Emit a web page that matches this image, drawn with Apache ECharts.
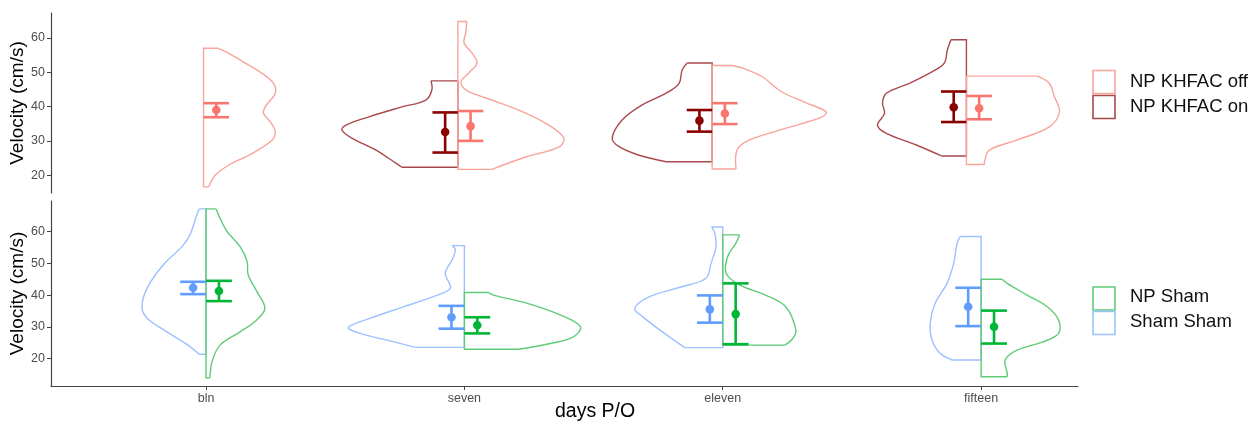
<!DOCTYPE html>
<html>
<head>
<meta charset="utf-8">
<script src="https://cdn.jsdelivr.net/npm/echarts@6/dist/echarts.min.js"></script>
<style>
html,body{margin:0;padding:0;background:#fff;}
#chart{width:1252px;height:422px;}
</style>
</head>
<body>
<div id="chart"></div>
<script>
// ---------- DATA ----------
const categories = ['bln', 'seven', 'eleven', 'fifteen'];
const yTicks = [20, 30, 40, 50, 60];

// Error bars (mean, lower, upper) per category — top panel
const khfacOffMean = [39.0, 34.3, 38.0, 39.5];
const khfacOffLow  = [36.9, 30.0, 34.9, 36.3];
const khfacOffHigh = [41.0, 38.7, 41.0, 43.1];
const khfacOnMean  = [null, 32.6, 35.9, 39.8];
const khfacOnLow   = [null, 26.6, 32.7, 35.5];
const khfacOnHigh  = [null, 38.3, 39.0, 44.4];

// Error bars — bottom panel
const shamShamMean = [42.3, 33.0, 35.5, 36.3];
const shamShamLow  = [40.3, 29.4, 31.3, 30.2];
const shamShamHigh = [44.2, 36.6, 39.9, 42.3];
const npShamMean   = [41.3, 30.5, 34.0, 30.0];
const npShamLow    = [38.1, 27.9, 24.5, 24.7];
const npShamHigh   = [44.5, 33.0, 43.7, 35.1];

// Violin outlines: [velocity, half-width in category units], top to bottom
const khfacOffBln = [[57.0,0.059],[55.6,0.098],[52.7,0.164],[49.7,0.230],[46.8,0.275],[43.9,0.282],[40.0,0.243],[38.0,0.236],[35.6,0.262],[32.7,0.282],[30.2,0.269],[26.3,0.190],[22.9,0.098],[20.0,0.046],[16.6,0.020]];
const khfacOffSeven = [[64.8,0.035],[61.5,0.031],[58.6,0.024],[55.7,0.055],[52.7,0.075],[49.8,0.043],[47.2,0.012],[44.9,0.031],[42.5,0.110],[39.0,0.240],[34.6,0.358],[30.8,0.417],[28.2,0.397],[25.3,0.267],[21.7,0.134]];
const khfacOffEleven = [[52.0,0.079],[51.3,0.118],[48.7,0.197],[44.4,0.271],[41.1,0.370],[38.5,0.448],[37.0,0.433],[33.7,0.291],[30.2,0.145],[27.3,0.098],[21.8,0.094]];
const khfacOffFifteen = [[48.9,0.279],[46.8,0.326],[42.9,0.346],[38.5,0.366],[34.1,0.326],[30.2,0.197],[27.3,0.090],[23.9,0.071],[23.1,0.071]];

const khfacOnSeven = [[47.5,0.106],[44.9,0.102],[41.9,0.126],[39.9,0.220],[37.0,0.350],[34.6,0.440],[33.2,0.456],[30.8,0.417],[27.3,0.322],[23.5,0.244],[22.3,0.220]];
const khfacOnEleven = [[52.7,0.098],[50.7,0.118],[46.8,0.130],[43.9,0.181],[40.5,0.275],[36.1,0.354],[30.8,0.393],[28.3,0.366],[25.8,0.287],[23.9,0.181]];
const khfacOnFifteen = [[59.5,0.061],[56.5,0.075],[52.7,0.087],[50.2,0.134],[46.8,0.224],[43.9,0.315],[41.0,0.330],[38.0,0.322],[34.6,0.350],[32.2,0.315],[28.8,0.197],[25.6,0.098]];

const shamShamBln = [[67.2,0.026],[65.3,0.036],[59.0,0.062],[55.3,0.093],[49.5,0.166],[42.2,0.228],[36.3,0.248],[32.7,0.228],[28.4,0.151],[24.2,0.070],[21.3,0.026]];
const shamShamSeven = [[55.6,0.048],[54.3,0.035],[51.1,0.048],[46.9,0.074],[42.2,0.054],[40.0,0.105],[36.3,0.236],[32.7,0.364],[29.8,0.449],[27.9,0.403],[25.3,0.275],[23.5,0.190]];
const shamShamEleven = [[61.5,0.043],[59.6,0.031],[55.3,0.026],[50.1,0.045],[45.3,0.065],[42.7,0.155],[39.5,0.283],[35.8,0.341],[33.2,0.310],[29.5,0.252],[23.4,0.147]];
const shamShamFifteen = [[58.5,0.080],[56.4,0.093],[50.1,0.106],[43.7,0.132],[37.4,0.178],[31.1,0.197],[25.8,0.190],[21.6,0.159],[19.5,0.112]];

const npShamBln = [[67.2,0.039],[64.3,0.054],[60.1,0.081],[55.3,0.132],[50.6,0.159],[46.4,0.163],[41.1,0.197],[35.8,0.228],[32.0,0.194],[28.4,0.132],[24.2,0.054],[18.9,0.023],[14.2,0.015],[13.9,0.015]];
const npShamSeven = [[40.8,0.094],[40.0,0.112],[37.4,0.244],[33.7,0.372],[30.0,0.449],[26.8,0.422],[24.7,0.333],[22.9,0.209]];
const npShamEleven = [[59.0,0.065],[56.4,0.051],[52.2,0.019],[46.9,0.013],[43.2,0.065],[40.0,0.166],[36.3,0.244],[29.0,0.283],[26.3,0.271],[24.2,0.240]];
const npShamFifteen = [[45.0,0.081],[43.7,0.101],[40.0,0.178],[36.3,0.256],[32.1,0.300],[27.9,0.300],[25.3,0.242],[22.6,0.139],[19.5,0.093],[15.3,0.101],[14.2,0.101]];

// ---------- STYLE ----------
const C = {
  offViolin: '#F9A39D', offBar: '#F8766D',
  onViolin: '#A84A4C', onBar: '#8B0000',
  npViolin: '#5FCB76', npBar: '#00B636',
  shamViolin: '#9DC1FF', shamBar: '#619CFF'
};
const DODGE = 0.05, CAP = 0.05;
const FONT = 'Liberation Sans, Arial, sans-serif';

function violinSeries(name, outlines, side, color, axis, z) {
  const data = [];
  outlines.forEach((o, i) => { if (o) data.push([i]); });
  return {
    type: 'custom', name, xAxisIndex: axis, yAxisIndex: axis, z, clip: false,
    data, encode: { x: 0 }, silent: true,
    renderItem(params, api) {
      const c = api.value(0);
      const o = outlines[c];
      const pts = o.map(p => api.coord([c + side * p[1], p[0]]));
      const top = api.coord([c, o[0][0]]);
      const bot = api.coord([c, o[o.length - 1][0]]);
      const st = { stroke: color, lineWidth: 1.4, fill: null };
      return { type: 'group', children: [
        { type: 'polyline', shape: { points: pts, smooth: 0.35 }, style: st },
        { type: 'polyline', shape: { points: [pts[0], top, bot, pts[pts.length - 1]] }, style: st }
      ]};
    }
  };
}

function errorSeries(name, mean, low, high, side, color, axis) {
  const data = [];
  mean.forEach((m, i) => { if (m != null) data.push([i, low[i], high[i], m]); });
  return {
    type: 'custom', name, xAxisIndex: axis, yAxisIndex: axis, z: 10, clip: false,
    data, encode: { x: 0, y: [1, 2, 3] }, silent: true,
    renderItem(params, api) {
      const x = api.value(0) + side * DODGE;
      const lo = api.coord([x, api.value(1)]);
      const hi = api.coord([x, api.value(2)]);
      const m = api.coord([x, api.value(3)]);
      const l = api.coord([x - CAP, api.value(1)])[0];
      const r = api.coord([x + CAP, api.value(1)])[0];
      const st = { stroke: color, lineWidth: 2.6, fill: null };
      return { type: 'group', children: [
        { type: 'line', shape: { x1: lo[0], y1: lo[1], x2: hi[0], y2: hi[1] }, style: st },
        { type: 'line', shape: { x1: l, y1: lo[1], x2: r, y2: lo[1] }, style: st },
        { type: 'line', shape: { x1: l, y1: hi[1], x2: r, y2: hi[1] }, style: st },
        { type: 'circle', shape: { cx: m[0], cy: m[1], r: 4.3 }, style: { fill: color } }
      ]};
    }
  };
}

const axisLineStyle = { color: '#444', width: 1.2 };

const option = {
  animation: false,
  backgroundColor: '#fff',
  grid: [
    { left: 51, top: 13, width: 1068, height: 180, containLabel: false, outerBoundsMode: 'none' },
    { left: 51, top: 201, width: 1027, height: 185, containLabel: false, outerBoundsMode: 'none' }
  ],
  xAxis: [
    { type: 'value', gridIndex: 0, min: -0.6, max: 3.6, show: false },
    { type: 'value', gridIndex: 1, min: -0.6, max: 3.375,
      axisLine: { onZero: false, lineStyle: axisLineStyle },
      axisTick: { customValues: [0, 1, 2, 3], length: 4, lineStyle: { color: '#444' } },
      axisLabel: { customValues: [0, 1, 2, 3], formatter: v => categories[Math.round(v)],
        color: '#4d4d4d', fontSize: 12.5, fontFamily: FONT, margin: 6 },
      splitLine: { show: false } }
  ],
  yAxis: [
    { type: 'value', gridIndex: 0, min: 14.8, max: 67.3,
      name: 'Velocity (cm/s)', nameLocation: 'middle', nameGap: 24, nameMoveOverlap: false,
      nameTextStyle: { color: '#000', fontSize: 19, fontFamily: FONT },
      axisLine: { show: true, onZero: false, lineStyle: axisLineStyle },
      axisTick: { show: true, customValues: yTicks, length: 4, lineStyle: { color: '#444' } },
      axisLabel: { customValues: yTicks, color: '#4d4d4d', fontSize: 12.5, fontFamily: FONT, margin: 6 },
      splitLine: { show: false } },
    { type: 'value', gridIndex: 1, min: 11.3, max: 69.7,
      name: 'Velocity (cm/s)', nameLocation: 'middle', nameGap: 24, nameMoveOverlap: false,
      nameTextStyle: { color: '#000', fontSize: 19, fontFamily: FONT },
      axisLine: { show: true, onZero: false, lineStyle: axisLineStyle },
      axisTick: { show: true, customValues: yTicks, length: 4, lineStyle: { color: '#444' } },
      axisLabel: { customValues: yTicks, color: '#4d4d4d', fontSize: 12.5, fontFamily: FONT, margin: 6 },
      splitLine: { show: false } }
  ],
  graphic: [
    { type: 'text', left: 597 - 42, top: 402, style: { text: 'days P/O', fill: '#000', font: '19.5px ' + FONT } },
    { type: 'rect', shape: { x: 1093, y: 70.5, width: 22, height: 23 }, style: { fill: '#fff', stroke: C.offViolin, lineWidth: 1.6 } },
    { type: 'rect', shape: { x: 1093, y: 95.5, width: 22, height: 23 }, style: { fill: '#fff', stroke: C.onViolin, lineWidth: 1.6 } },
    { type: 'text', x: 1130, y: 82, style: { text: 'NP KHFAC off', fill: '#111', font: '18.5px ' + FONT, verticalAlign: 'middle' } },
    { type: 'text', x: 1130, y: 107, style: { text: 'NP KHFAC on', fill: '#111', font: '18.5px ' + FONT, verticalAlign: 'middle' } },
    { type: 'rect', shape: { x: 1093, y: 287, width: 22, height: 23 }, style: { fill: '#fff', stroke: C.npViolin, lineWidth: 1.6 } },
    { type: 'rect', shape: { x: 1093, y: 311.5, width: 22, height: 23 }, style: { fill: '#fff', stroke: C.shamViolin, lineWidth: 1.6 } },
    { type: 'text', x: 1130, y: 297, style: { text: 'NP Sham', fill: '#111', font: '18.5px ' + FONT, verticalAlign: 'middle' } },
    { type: 'text', x: 1130, y: 322, style: { text: 'Sham Sham', fill: '#111', font: '18.5px ' + FONT, verticalAlign: 'middle' } }
  ],
  series: [
    violinSeries('NP KHFAC on', [null, khfacOnSeven, khfacOnEleven, khfacOnFifteen], -1, C.onViolin, 0, 2),
    violinSeries('NP KHFAC off', [khfacOffBln, khfacOffSeven, khfacOffEleven, khfacOffFifteen], 1, C.offViolin, 0, 3),
    violinSeries('Sham Sham', [shamShamBln, shamShamSeven, shamShamEleven, shamShamFifteen], -1, C.shamViolin, 1, 2),
    violinSeries('NP Sham', [npShamBln, npShamSeven, npShamEleven, npShamFifteen], 1, C.npViolin, 1, 3),
    errorSeries('NP KHFAC on', khfacOnMean, khfacOnLow, khfacOnHigh, -1, C.onBar, 0),
    errorSeries('NP KHFAC off', khfacOffMean, khfacOffLow, khfacOffHigh, 1, C.offBar, 0),
    errorSeries('Sham Sham', shamShamMean, shamShamLow, shamShamHigh, -1, C.shamBar, 1),
    errorSeries('NP Sham', npShamMean, npShamLow, npShamHigh, 1, C.npBar, 1)
  ]
};

const chart = echarts.init(document.getElementById('chart'), null, { renderer: 'canvas' });
chart.setOption(option);
</script>
</body>
</html>
